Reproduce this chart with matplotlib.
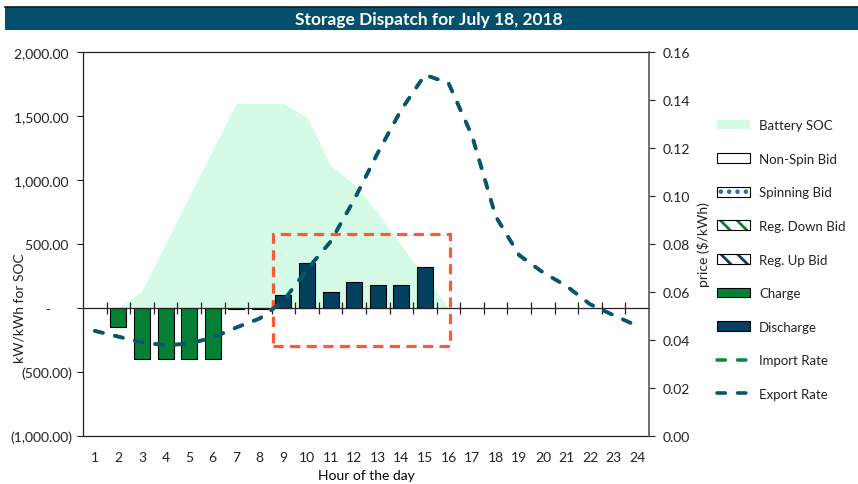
import numpy as np
import matplotlib
matplotlib.use("Agg")
import matplotlib.pyplot as plt
from matplotlib import ticker, rcParams
from matplotlib.patches import Patch, Rectangle
from matplotlib.lines import Line2D
from matplotlib.legend_handler import HandlerTuple

# data
hours = np.arange(1, 25)
charge_kw = np.array([0, -150, -400, -400, -400, -400, -10, -10,
                      0, 0, 0, 0, 0, 0, 0, 0, 0, 0, 0, 0, 0, 0, 0, 0])
discharge_kw = np.array([0, 0, 0, 0, 0, 0, 0, 0,
                         105, 350, 127, 200, 180, 180, 317,
                         0, 0, 0, 0, 0, 0, 0, 0, 0])
battery_soc = np.array([0, 0, 135, 500, 870, 1235, 1600, 1600, 1600, 1490,
                        1115, 965, 743, 491, 234, 0, 0, 0, 0, 0, 0, 0, 0, 0])
export_rate = np.array([0.0438, 0.0414, 0.0390, 0.0378, 0.0385, 0.0410,
                        0.0452, 0.0490, 0.0563, 0.0694, 0.0810, 0.0985,
                        0.1180, 0.1360, 0.1505, 0.1470, 0.1250, 0.0915,
                        0.0753, 0.0682, 0.0625, 0.0549, 0.0503, 0.0459])
import_rate = export_rate.copy()  # hidden under the export line

# highlight box (hour span, kW span)
box_hours = (8.55, 16.05)
box_kw = (-295, 577)

legend_labels = ["Battery SOC", "Non-Spin Bid", "Spinning Bid", "Reg. Down Bid",
                 "Reg. Up Bid", "Charge", "Discharge", "Import Rate", "Export Rate"]

#colours
soc_color = "#d5fbe6"
charge_color = "#067f36"
discharge_color = "#05405e"
export_color = "#0a5470"
import_color = "#0e8a43"
box_color = "#ff5a36"
title_color = "#044f6c"


def set_fonts():
    rcParams["font.family"] = ["Lato", "DejaVu Sans"]
    rcParams["font.size"] = 10
    rcParams["hatch.linewidth"] = 2.0


def money_fmt(x, pos):
    #excel accounting style labels
    if abs(x) < 1e-9:
        return "-      "
    if x < 0:
        return "({:,.2f})".format(-x)
    return "{:,.2f} ".format(x)


def create_plot():
    fig = plt.figure(figsize=(8.58, 4.85), dpi=100)

    #title banner
    fig.patches.append(Rectangle((5 / 858, 1 - 31 / 485), 853 / 858, 23 / 485,
                                 transform=fig.transFigure, facecolor=title_color,
                                 edgecolor="none", zorder=0))
    fig.add_artist(Line2D([5 / 858, 1], [1 - 8 / 485, 1 - 8 / 485],
                          transform=fig.transFigure, color="#101820", lw=1.2))
    fig.text(0.5, 1 - 19.5 / 485, "Storage Dispatch for July 18, 2018", color="white",
             fontsize=12.5, fontweight="bold", ha="center", va="center")

    ax = fig.add_axes([83 / 858, 48 / 485, 566 / 858, 384 / 485])
    ax.set_xlim(0.5, 24.5)
    ax.set_ylim(-1000, 2000)

    ax.fill_between(hours, battery_soc, 0, color=soc_color, lw=0, zorder=1)

    m = charge_kw != 0
    ax.bar(hours[m], charge_kw[m], width=0.68, color=charge_color,
           edgecolor="black", lw=0.8, zorder=2)
    m = discharge_kw != 0
    ax.bar(hours[m], discharge_kw[m], width=0.68, color=discharge_color,
           edgecolor="black", lw=0.8, zorder=2)

    ax.add_patch(Rectangle((box_hours[0], box_kw[0]), box_hours[1] - box_hours[0],
                           box_kw[1] - box_kw[0], fill=False, edgecolor=box_color,
                           lw=2.3, linestyle=(0, (3.2, 2.0)), zorder=5))

    #left axis styling
    ax.yaxis.set_major_locator(ticker.MultipleLocator(500))
    ax.yaxis.set_major_formatter(ticker.FuncFormatter(money_fmt))
    ax.tick_params(axis="y", direction="out", length=4, pad=4, colors="#222222")
    ax.set_xticks(hours)
    ax.tick_params(axis="x", length=0, pad=11, colors="#222222")
    for s in ["left", "bottom", "top"]:
        ax.spines[s].set_color("#222222")
        ax.spines[s].set_linewidth(0.9)
    ax.spines["right"].set_visible(False)
    ax.set_xlabel("Hour of the day", labelpad=4)

    #zero line with category boundary ticks
    zero_pos = (0 - ax.get_ylim()[0]) / (ax.get_ylim()[1] - ax.get_ylim()[0])
    sec = ax.secondary_xaxis(zero_pos)
    sec.set_xticks(np.arange(1.5, 24.5, 1.0))
    sec.tick_params(direction="inout", length=8, width=0.9, labelbottom=False,
                    labeltop=False, color="#222222")
    for s in sec.spines.values():
        s.set_color("#222222")
        s.set_linewidth(0.9)
    sec.set_zorder(4)

    fig.text(20 / 858, 1 - 308 / 485, "kW/kWh for SOC", rotation=90,
             ha="center", va="center", color="#222222")

    #price axis
    ax2 = ax.twinx()
    ax2.set_ylim(0, 0.16)
    ax2.yaxis.set_major_locator(ticker.MultipleLocator(0.02))
    ax2.yaxis.set_major_formatter(ticker.FormatStrFormatter("%.2f"))
    ax2.tick_params(axis="y", direction="out", length=4, pad=6, colors="#222222")
    for s in ["left", "top", "bottom"]:
        ax2.spines[s].set_visible(False)
    ax2.spines["right"].set_color("#555555")
    ax2.spines["right"].set_linewidth(1.2)
    ax2.set_ylabel("price ($/kWh)", labelpad=5, color="#222222")

    dash = (0, (2.3, 3.4))
    ax2.plot(hours, import_rate, color=import_color, lw=2.6, linestyle=dash,
             dash_capstyle="round")
    ax2.plot(hours, export_rate, color=export_color, lw=2.6, linestyle=dash,
             dash_capstyle="round")

    #legend
    handles = [
        Patch(facecolor=soc_color, edgecolor="none"),
        Patch(facecolor="white", edgecolor="black", lw=0.8),
        (Patch(facecolor="white", edgecolor="#2b6aa0", hatch="..", lw=0),
         Patch(facecolor="none", edgecolor="black", lw=0.8)),
        (Patch(facecolor="white", edgecolor=charge_color, hatch="\\\\", lw=0),
         Patch(facecolor="none", edgecolor="black", lw=0.8)),
        (Patch(facecolor="white", edgecolor=discharge_color, hatch="\\\\", lw=0),
         Patch(facecolor="none", edgecolor="black", lw=0.8)),
        Patch(facecolor=charge_color, edgecolor="black", lw=0.8),
        Patch(facecolor=discharge_color, edgecolor="black", lw=0.8),
        Line2D([], [], color=import_color, lw=2.6, linestyle=dash, dash_capstyle="round"),
        Line2D([], [], color=export_color, lw=2.6, linestyle=dash, dash_capstyle="round"),
    ]
    fig.legend(handles, legend_labels, loc="upper left",
               bbox_to_anchor=(717 / 858, 1 - 120 / 485), frameon=False,
               borderpad=0, borderaxespad=0, handlelength=2.5, handleheight=0.75,
               handletextpad=0.7, labelspacing=1.64, fontsize=9.5,
               handler_map={tuple: HandlerTuple(ndivide=1)},
               labelcolor="#222222")

    return fig


def main():
    set_fonts()
    fig = create_plot()
    fig.savefig("out.png", dpi=100)


if __name__ == "__main__":
    main()
